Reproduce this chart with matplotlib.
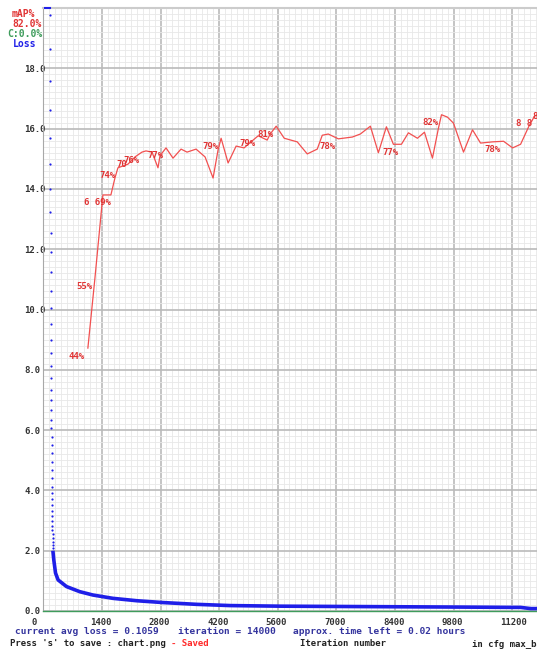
import matplotlib.pyplot as plt
from matplotlib.transforms import ScaledTranslation

# ---- data ----
max_batches = 14000
x_ticks = [0, 1400, 2800, 4200, 5600, 7000, 8400, 9800, 11200, 12600, 14000]
y_ticks = [0.0, 2.0, 4.0, 6.0, 8.0, 10.0, 12.0, 14.0, 16.0, 18.0]

# first iterations, loss above the top of the chart (darknet pins them to the top)
early_iter = [40, 80, 120, 150]
early_loss = [64.0, 41.0, 28.0, 21.5]

# separate loss dots while the loss drops fast
dot_iter = [160, 162, 163, 165, 166, 168, 170, 171, 173, 174,
            176, 178, 179, 181, 182, 184, 186, 187, 189, 190,
            192, 194, 195, 197, 198, 200, 202, 203, 205, 206,
            208, 210, 211, 213, 214, 216, 218, 219, 221, 222,
            224, 226, 227]
dot_loss = [19.77, 18.64, 17.58, 16.62, 15.69, 14.83, 14.0, 13.23, 12.54, 11.91,
            11.24, 10.61, 10.05, 9.52, 8.99, 8.56, 8.13, 7.73, 7.33, 7.0,
            6.67, 6.33, 6.07, 5.77, 5.51, 5.24, 4.94, 4.68, 4.41, 4.11,
            3.91, 3.71, 3.52, 3.32, 3.15, 2.99, 2.82, 2.69, 2.55, 2.42,
            2.29, 2.19, 2.09]

# avg loss after that (dense band)
band_iter = [229, 251, 292, 354, 555, 873, 1185, 1663, 2238, 2860, 3673, 4463,
             5660, 7096, 8532, 9968, 11164, 11400, 11643, 12000, 14000]
band_loss = [2.0, 1.69, 1.26, 1.03, 0.81, 0.64, 0.53, 0.42, 0.34, 0.28, 0.22, 0.18,
             0.16, 0.15, 0.14, 0.13, 0.12, 0.12, 0.08, 0.08, 0.1]

# mAP (%) at each evaluation
map_iter = [1065, 1232, 1424, 1615, 1711, 1783, 1903, 2022, 2190, 2357,
            2453, 2597, 2740, 2788, 2932, 3099, 3291, 3434, 3650, 3865,
            4056, 4176, 4248, 4415, 4607, 4798, 4894, 5133, 5349, 5420,
            5564, 5756, 6067, 6306, 6545, 6665, 6809, 7048, 7383, 7574,
            7814, 8005, 8197, 8364, 8556, 8723, 8938, 9106, 9297, 9441,
            9513, 9656, 9800, 10039, 10254, 10446, 10733, 10996, 11212, 11403,
            11595, 11738, 12145]
map_pct = [43.6, 55.1, 69.0, 69.0, 71.8, 73.5, 73.8, 74.1, 75.3, 76.1,
           76.3, 76.1, 73.5, 75.5, 76.8, 75.1, 76.6, 76.1, 76.6, 75.3,
           71.8, 76.5, 78.4, 74.3, 77.1, 76.8, 77.4, 78.8, 78.1, 79.1,
           80.4, 78.4, 77.8, 75.8, 76.6, 78.9, 79.1, 78.3, 78.6, 79.1,
           80.4, 76.0, 80.3, 77.4, 77.4, 79.3, 78.4, 79.4, 75.1, 80.1,
           82.3, 81.9, 80.9, 76.1, 79.8, 77.6, 77.8, 77.9, 76.8, 77.4,
           80.3, 82.1, 83.4]
# labels printed by darknet next to some evaluations (index -> text as shown)
label_idx = [0, 1, 2, 5, 8, 9, 14, 22, 27, 30, 37, 44, 50, 57, 61, 62]
label_txt = ["44%", "55%", "6 69%", "74%", "70", "76%", "77%", "79%", "79%",
             "81%", "78%", "77%", "82%", "78%", "8 8", "83%"]

max_img_loss = 20.0
W, H = 537, 649
MONO = "DejaVu Sans Mono"
RED = "#e03434"
BLUE = "#1f1fe8"
GREEN = "#3f9c5c"

fig = plt.figure(figsize=(W / 100, H / 100), dpi=100)
fig.patch.set_facecolor("white")

# plot area: left edge at 43 px, top at 8 px, bottom at 611 px; runs off the right side
x0, top, bot = 43.3, 8.0, 611.0
px_per_iter = 58.6 / 1400
ax = fig.add_axes([x0 / W, (H - bot) / H, px_per_iter * max_batches / W, (bot - top) / H])
ax.set_xlim(0, max_batches)
ax.set_ylim(0, max_img_loss)

ax.set_xticks(x_ticks)
ax.set_xticks([i * 140 for i in range(101)], minor=True)
ax.set_yticks(y_ticks)
ax.set_yticks([i * 0.2 for i in range(101)], minor=True)
ax.grid(which="major", color="#bababa", lw=1.2)
ax.grid(which="minor", color="#e8e8e8", lw=0.6)
ax.set_axisbelow(True)
ax.tick_params(which="both", length=0)
ax.tick_params(axis="x", pad=5, labelsize=6.5, labelcolor="#333333")
ax.tick_params(axis="y", pad=13.5, labelsize=6.5, labelcolor="#333333")
ax.set_xticklabels([str(t) for t in x_ticks], family=MONO, fontweight="bold")
ax.set_yticklabels(["%.1f" % t for t in y_ticks], family=MONO, fontweight="bold")
shift = ScaledTranslation(-12 / 100, 0, fig.dpi_scale_trans)
for lbl in ax.get_xticklabels():
    lbl.set_ha("left")
    lbl.set_transform(lbl.get_transform() + shift)
for lbl in ax.get_yticklabels():
    lbl.set_ha("left")

ax.spines["left"].set_color("#a8a8a8")
ax.spines["top"].set_color("#cccccc")
ax.spines["top"].set_linewidth(1.5)
ax.spines["bottom"].set_color(GREEN)
ax.spines["bottom"].set_linewidth(1.0)

# loss
ax.plot(early_iter, [min(v, max_img_loss) for v in early_loss], color=BLUE, lw=1.5,
        clip_on=False, zorder=3)
ax.scatter(dot_iter, dot_loss, s=2.5, color=BLUE, lw=0, zorder=3)
ax.plot(band_iter, band_loss, color=BLUE, lw=2.6, solid_capstyle="butt", zorder=3)

# mAP, scaled so that 100% sits at the top of the chart
map_y = [p / 100 * max_img_loss for p in map_pct]
ax.plot(map_iter, map_y, color="#f25050", lw=0.9, zorder=4)
for i, t in zip(label_idx, label_txt):
    ax.annotate(t, (map_iter[i], map_y[i]), xytext=(-19, -8), textcoords="offset pixels",
                ha="left", va="center", color=RED, fontsize=6.5, family=MONO,
                fontweight="bold", zorder=5, annotation_clip=False)


def fig_text(x, y, s, color, size=6.8):
    fig.text(x / W, 1 - y / H, s, color=color, fontsize=size, family=MONO,
             fontweight="bold", ha="left", va="center")


# legend in the top left corner
fig_text(12, 14, "mAP%", RED, 7)
fig_text(12, 24, "82.0%", RED, 7)
fig_text(7, 34, "C:0.0%", GREEN, 7)
fig_text(13, 44, "Loss", BLUE, 7)

# status lines under the chart
fig_text(15, 632, "current avg loss = 0.1059", "#34349e")
fig_text(178, 632, "iteration = 14000", "#34349e")
fig_text(293, 632, "approx. time left = 0.02 hours", "#34349e")
fig_text(10, 644, "Press 's' to save : chart.png", "#222222", 6.5)
fig_text(171, 644, "- Saved", "#ff2a2a", 6.5)
fig_text(300, 644, "Iteration number", "#222222", 6.5)
fig_text(472, 644, "in cfg max_batches=14000", "#222222", 6.5)

fig.savefig("out.png", dpi=100)
plt.close(fig)
